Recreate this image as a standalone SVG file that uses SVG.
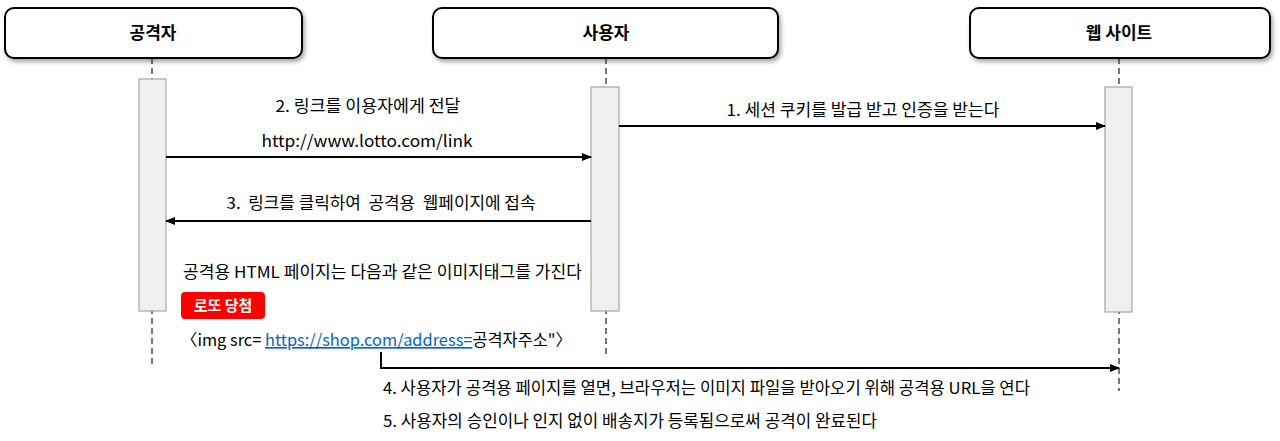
<svg xmlns="http://www.w3.org/2000/svg" width="1280" height="441" viewBox="0 0 1280 441">
<defs>
<filter id="sh" x="-5%" y="-20%" width="110%" height="150%">
<feDropShadow dx="2" dy="3" stdDeviation="2" flood-color="#000" flood-opacity="0.35"/>
</filter>
<marker id="ah" markerWidth="10" markerHeight="8" refX="9" refY="4" orient="auto" markerUnits="userSpaceOnUse">
<path d="M0,0 L10,4 L0,8 Z" fill="#000"/>
</marker>
</defs>
<style>
.box{fill:#fff;stroke:#000;stroke-width:2;}
.title{font-family:"Noto Sans CJK KR","Malgun Gothic",sans-serif;font-size:17px;font-weight:bold;text-anchor:middle;fill:#000;}
.life{stroke:#777;stroke-width:2;stroke-dasharray:6,4;fill:none;}
.act{fill:#f0f0f0;stroke:#a6a6a6;stroke-width:1.2;}
.msg{stroke:#000;stroke-width:2;fill:none;}
.t{font-family:"Noto Sans CJK KR","Malgun Gothic",sans-serif;font-size:16.5px;fill:#000;}
.c{text-anchor:middle;}
.link{fill:#0563C1;text-decoration:underline;}
</style>
<rect width="1280" height="441" fill="#fff"/>
<g id="lifelines">
<line class="life" x1="152" y1="58" x2="152" y2="364"/>
<line class="life" x1="606" y1="58" x2="606" y2="356"/>
<line class="life" x1="1119" y1="58" x2="1119" y2="391"/>
</g>
<g id="node-attacker">
<rect class="box" x="5" y="8" width="297" height="50" rx="9" filter="url(#sh)"/>
<text class="title" x="153" y="39">공격자</text>
</g>
<g id="node-user">
<rect class="box" x="433" y="8" width="345" height="50" rx="9" filter="url(#sh)"/>
<text class="title" x="606" y="39">사용자</text>
</g>
<g id="node-website">
<rect class="box" x="970" y="8" width="300" height="50" rx="9" filter="url(#sh)"/>
<text class="title" x="1119" y="39">웹 사이트</text>
</g>
<g id="activations">
<rect class="act" x="139" y="79" width="27" height="232"/>
<rect class="act" x="591" y="87" width="28" height="224"/>
<rect class="act" x="1105" y="87" width="27" height="225"/>
</g>
<g id="connectors">
<line class="msg" x1="619" y1="126" x2="1105" y2="126" marker-end="url(#ah)"/>
<line class="msg" x1="166" y1="157" x2="591" y2="157" marker-end="url(#ah)"/>
<line class="msg" x1="591" y1="221" x2="166" y2="221" marker-end="url(#ah)"/>
<polyline class="msg" points="381,352 381,368 1119,368" marker-end="url(#ah)"/>
</g>
<g id="labels">
<text class="t c" x="863" y="116" textLength="273" lengthAdjust="spacingAndGlyphs">1. 세션 쿠키를 발급 받고 인증을 받는다</text>
<text class="t c" x="368" y="112" textLength="185" lengthAdjust="spacingAndGlyphs">2. 링크를 이용자에게 전달</text>
<text class="t c" x="367" y="147" textLength="211" lengthAdjust="spacingAndGlyphs">http://www.lotto.com/link</text>
<text class="t c" x="381" y="209" xml:space="preserve" textLength="309" lengthAdjust="spacingAndGlyphs">3.  링크를 클릭하여  공격용  웹페이지에 접속</text>
<text class="t" x="183" y="278" textLength="399" lengthAdjust="spacingAndGlyphs">공격용 HTML 페이지는 다음과 같은 이미지태그를 가진다</text>
<g id="badge">
<rect x="181" y="292" width="84" height="27" rx="4" fill="#ff0000"/>
<text class="t c" x="223" y="311" style="fill:#fff;font-weight:bold;font-size:15px">로또 당첨</text>
</g>
<text class="t" x="181" y="346" textLength="391" lengthAdjust="spacingAndGlyphs">〈img src= <tspan class="link">https://shop.com/address=</tspan>공격자주소"〉</text>
<text class="t" x="383" y="394" textLength="647" lengthAdjust="spacingAndGlyphs">4. 사용자가 공격용 페이지를 열면, 브라우저는 이미지 파일을 받아오기 위해 공격용 URL을 연다</text>
<text class="t" x="383" y="427" textLength="494" lengthAdjust="spacingAndGlyphs">5. 사용자의 승인이나 인지 없이 배송지가 등록됨으로써 공격이 완료된다</text>
</g>
</svg>
